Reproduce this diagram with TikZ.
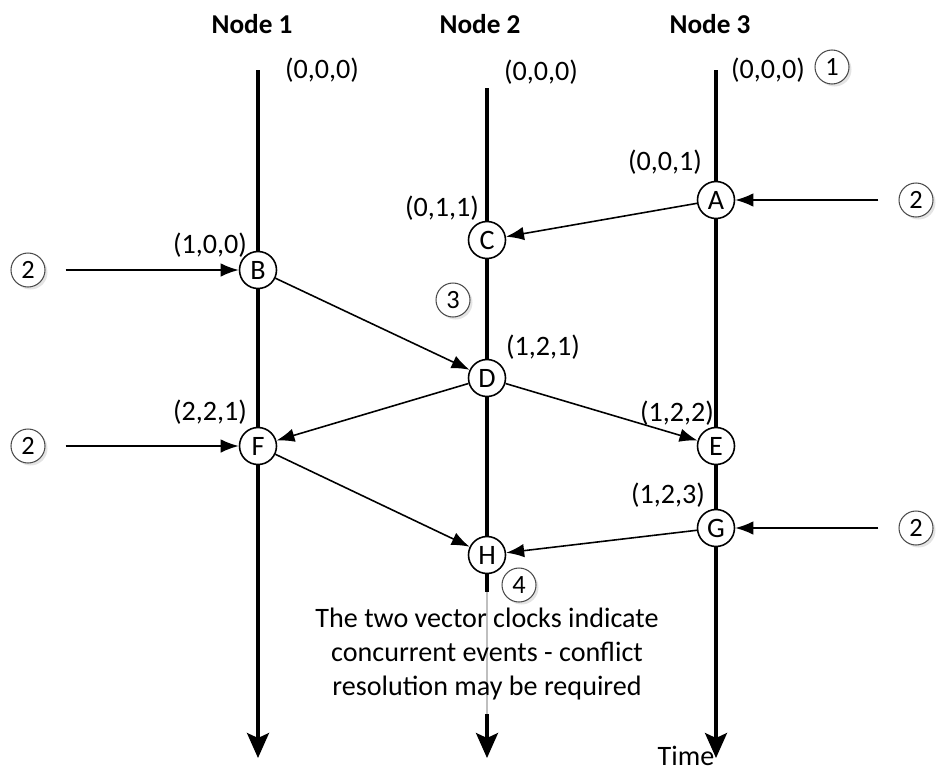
\documentclass[tikz,border=0pt]{standalone}
\usepackage{fontspec}
\setmainfont{Carlito}
\usetikzlibrary{arrows.meta,shadows}

\begin{document}
\begin{tikzpicture}[x=0.2mm,y=-0.2mm,font=\fontsize{16}{19.3}\selectfont,line cap=butt,
  event/.style={circle,draw,line width=0.9pt,fill=white,minimum size=7.4mm,inner sep=0pt},
  stepnum/.style={circle,draw=black!70,line width=0.6pt,fill=white,minimum size=6.8mm,inner sep=0pt,
    font=\fontsize{15}{18}\selectfont,
    drop shadow={shadow xshift=0.5mm,shadow yshift=-0.5mm,opacity=0.3,fill=black!35}},
  timeline/.style={line width=1.8pt,-{Stealth[length=5mm,width=4.4mm,inset=1mm]}},
  msg/.style={line width=0.9pt,-{Latex[length=3.6mm,width=2.7mm]}},
  ext/.style={msg,shorten <=4mm},
  head/.style={font=\fontsize{15.5}{18}\selectfont\bfseries}]
\useasboundingbox (0,0) rectangle (937,773);
% headers
\node[head] (h1) at (252,24) {Node 1};
\node[head] (h2) at (480,24) {Node 2};
\node[head] (h3) at (710,24) {Node 3};
% time lines
\coordinate (t1) at (258,70);  \coordinate (b1) at (258,758);
\coordinate (t2) at (487,88);  \coordinate (b2) at (487,758);
\coordinate (t3) at (716,70);  \coordinate (b3) at (716,758);
\draw[timeline] (t1) -- (b1);
\draw[timeline] (t2) -- (b2);
\draw[timeline] (t3) -- (b3);
\coordinate (g1) at (487,592); \coordinate (g2) at (487,714);
\draw[white,line width=2.2pt] (g1) -- (g2);
\draw[black!25,line width=1.4pt] (g1) -- (g2);
% start clocks
\node (z1) at (322,70) {(0,0,0)};
\node (z2) at (541,72) {(0,0,0)};
\node (z3) at (768,70) {(0,0,0)};
% events
\node[event] (A) at (716,200) {A};
\node[event] (C) at (487,240) {C};
\node[event] (B) at (258,270) {B};
\node[event] (D) at (487,378) {D};
\node[event] (F) at (258,446) {F};
\node[event] (E) at (716,446) {E};
\node[event] (G) at (716,528) {G};
\node[event] (H) at (487,555) {H};
% vector clocks
\node (vA) at (665,162) {(0,0,1)};
\node (vC) at (442,208) {(0,1,1)};
\node (vB) at (210,245) {(1,0,0)};
\node (vD) at (543,347) {(1,2,1)};
\node (vF) at (210,412) {(2,2,1)};
\node (vE) at (677,413) {(1,2,2)};
\node (vG) at (668,495) {(1,2,3)};
% numbered marks
\node[stepnum] (n1) at (832,67) {1};
\node[stepnum] (n2a) at (916,200) {2};
\node[stepnum] (n2b) at (28,270) {2};
\node[stepnum] (n2c) at (28,446) {2};
\node[stepnum] (n2d) at (916,528) {2};
\node[stepnum] (n3) at (453,300) {3};
\node[stepnum] (n4) at (519,585) {4};
% messages
\draw[ext] (n2a) -- (A);
\draw[ext] (n2b) -- (B);
\draw[ext] (n2c) -- (F);
\draw[ext] (n2d) -- (G);
\draw[msg] (A) -- (C);
\draw[msg] (B) -- (D);
\draw[msg] (D) -- (F);
\draw[msg] (D) -- (E);
\draw[msg] (F) -- (H);
\draw[msg] (G) -- (H);
% note
\node[align=center] (note) at (487,654) {The two vector clocks indicate\\concurrent events - conflict\\resolution may be required};
\node[inner sep=1pt] (time) at (686,756) {Time};
\end{tikzpicture}
\end{document}
